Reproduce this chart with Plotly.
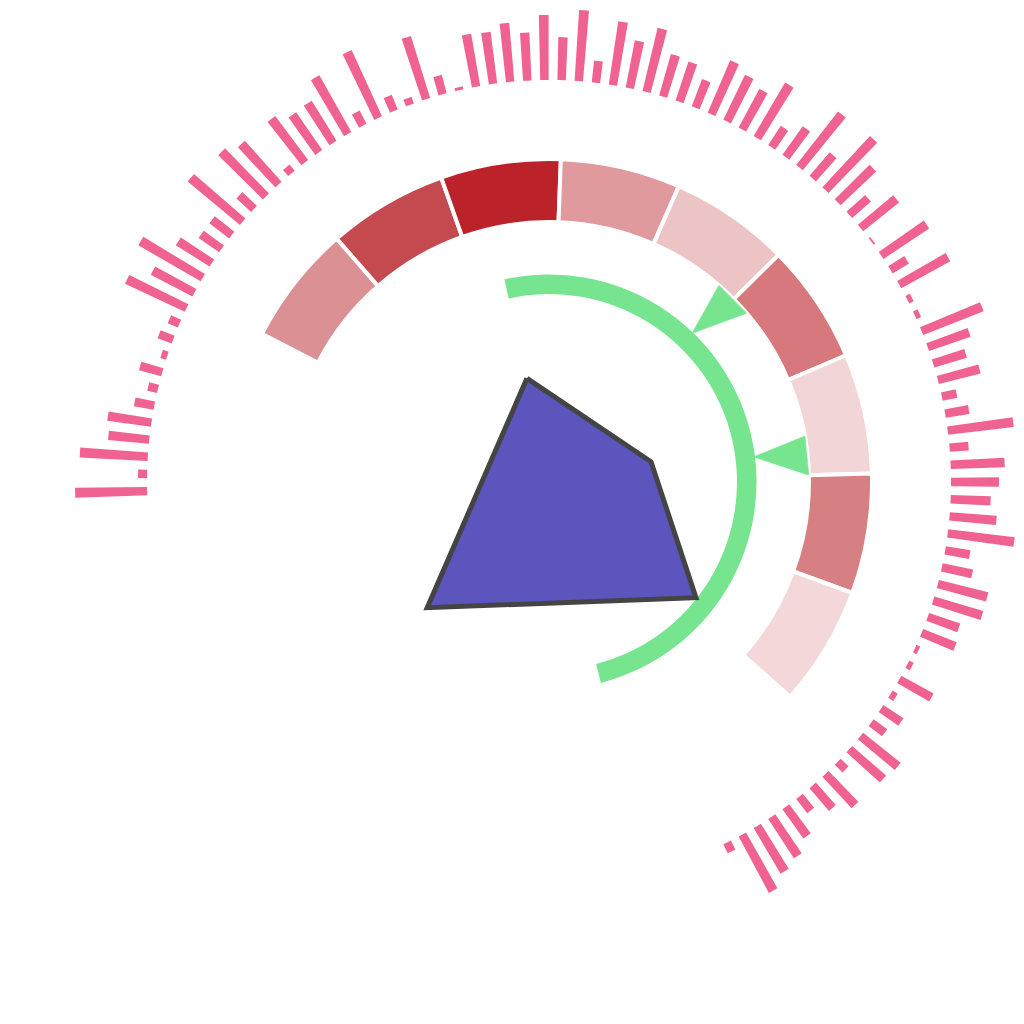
import plotly.graph_objects as go

# ---- data ----
# outer spike ring (lengths above the base circle), ordered clockwise from the west
spike_lengths = [72, 9, 68, 41, 44, 20, 10, 23, 6, 15, 11, 66, 47, 72, 40, 25, 25, 68, 20, 63,
                 55, 8, 55, 46, 47, 65, 15, 73, 16, 7, 65, 19, 3, 53, 52, 59, 48, 65, 43, 71,
                 22, 64, 48, 65, 43, 41, 29, 57, 50, 44, 62, 23, 35, 68, 31, 70, 49, 25, 46, 2,
                 55, 19, 56, 5, 5, 65, 44, 34, 43, 15, 24, 66, 19, 54, 48, 40, 47, 67, 25, 31,
                 51, 51, 33, 36, 4, 5, 37, 6, 24, 17, 48, 45, 11, 43, 30, 18, 36, 47, 53, 64, 10]
spike_start_deg = 181.3
spike_step_deg = 2.45

# middle segmented ring
segment_colors = ["#db9094", "#c54a50", "#bb2229", "#e09a9d", "#ecc4c6",
                  "#d6787c", "#f1d5d7", "#d78083", "#f3d7d9"]
segment_start_deg = 152.7
segment_span_deg = 21.6

# green arc
arc_from_deg = 102.4
arc_to_deg = -75.5
# arrow heads pointing at the arc
arrow_tip_theta = [46.1, 7.0]
arrow_base_theta = [44.85, 5.85]
arrow_half_width_deg = 4.35
arrow_tip_r = 206
arrow_base_r = 260

# purple polygon
poly_r = [106, 104, 187, 175]
poly_theta = [102.0, 11.2, -38.2, 225.9]

PINK = "#f06292"
GREEN = "#77e590"

fig = go.Figure()

# segmented ring
seg_theta = [segment_start_deg - segment_span_deg * (i + 0.5) for i in range(len(segment_colors))]
fig.add_trace(go.Barpolar(
    theta=seg_theta, r=[63] * len(segment_colors), base=[260] * len(segment_colors),
    width=[segment_span_deg] * len(segment_colors),
    marker=dict(color=segment_colors, line=dict(color="white", width=4)),
    hoverinfo="skip"))

# spikes
spike_theta = [spike_start_deg - spike_step_deg * i for i in range(len(spike_lengths))]
fig.add_trace(go.Barpolar(
    theta=spike_theta, r=spike_lengths, base=[402] * len(spike_lengths),
    width=[1.2] * len(spike_lengths),
    marker=dict(color=PINK, line=dict(width=0)),
    hoverinfo="skip"))

# green arc
fig.add_trace(go.Barpolar(
    theta=[(arc_from_deg + arc_to_deg) / 2], r=[19.5], base=[188],
    width=[arc_from_deg - arc_to_deg],
    marker=dict(color=GREEN, line=dict(width=0)),
    hoverinfo="skip"))

# arrow heads
for tip_t, base_t in zip(arrow_tip_theta, arrow_base_theta):
    fig.add_trace(go.Scatterpolar(
        theta=[tip_t, base_t + arrow_half_width_deg, base_t - arrow_half_width_deg, tip_t],
        r=[arrow_tip_r, arrow_base_r, arrow_base_r, arrow_tip_r],
        mode="lines", fill="toself", fillcolor=GREEN,
        line=dict(color=GREEN, width=0.5),
        hoverinfo="skip"))

# polygon
fig.add_trace(go.Scatterpolar(
    theta=poly_theta + poly_theta[:1], r=poly_r + poly_r[:1],
    mode="lines", fill="toself", fillcolor="#5c55be",
    line=dict(color="#444444", width=5),
    hoverinfo="skip"))

fig.update_layout(
    width=1024, height=1024,
    paper_bgcolor="white",
    showlegend=False,
    margin=dict(l=74, r=0, t=7, b=67, autoexpand=False),
    polar=dict(
        domain=dict(x=[0, 1], y=[0, 1]),
        bgcolor="white",
        barmode="overlay",
        radialaxis=dict(visible=False, range=[0, 475]),
        angularaxis=dict(visible=False, direction="counterclockwise", rotation=0),
    ),
)

fig.write_html("out.html")
